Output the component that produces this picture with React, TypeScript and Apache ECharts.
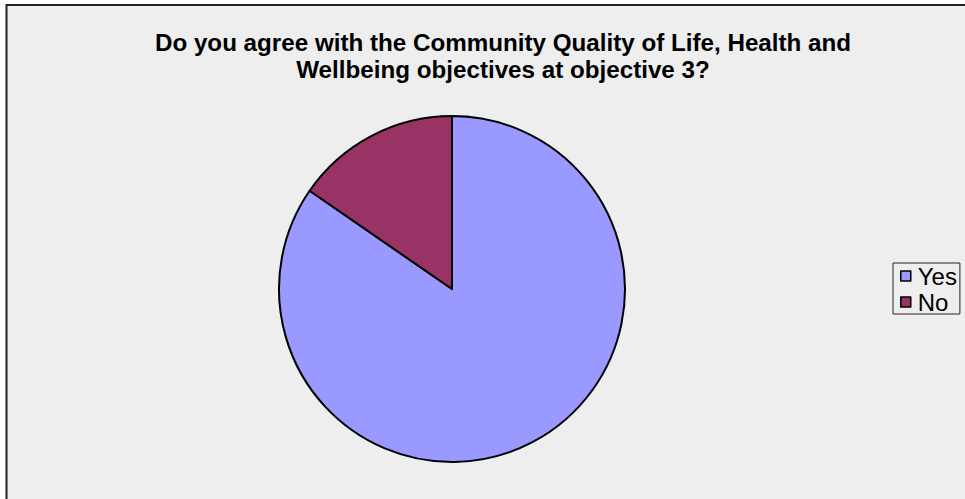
import React, { useEffect, useRef } from "react";
import * as echarts from "echarts";

const titleLines = [
  "Do you agree with the Community Quality of Life, Health and",
  "Wellbeing objectives at objective 3?",
];
const categories = ["Yes", "No"];
const values = [11, 2];
const colors = ["#9999FF", "#993366"];

export default function App() {
  const ref = useRef<HTMLDivElement>(null);
  useEffect(() => {
    document.body.style.margin = "0";
    const chart = echarts.init(ref.current!, null, { renderer: "svg" });
    chart.setOption({
      animation: false,
      backgroundColor: "#ffffff",
      graphic: [
        {
          type: "rect",
          z: -10,
          silent: true,
          shape: { x: 6.5, y: 5, width: 980, height: 520 },
          style: { fill: "#eeeeee", stroke: "#222222", lineWidth: 2 },
        },
        ...titleLines.map((t, i) => ({
          type: "text",
          x: 503,
          y: 42 + i * 27,
          silent: true,
          style: {
            x: 0,
            y: 0,
            text: t,
            align: "center",
            verticalAlign: "middle",
            fontFamily: "Liberation Sans, Arial, sans-serif",
            fontSize: 24.2,
            fontWeight: "bold",
            fill: "#000000",
          },
        })),
      ],
      legend: {
        orient: "vertical",
        left: 893,
        top: 263,
        data: categories,
        icon: "rect",
        itemWidth: 10,
        itemHeight: 10,
        itemGap: 2,
        padding: [1, 3, 0, 7],
        borderColor: "#222222",
        borderWidth: 1,
        backgroundColor: "#eeeeee",
        textStyle: {
          fontFamily: "Liberation Sans, Arial, sans-serif",
          fontSize: 24,
          lineHeight: 24,
          color: "#000000",
          padding: [0, 0, 0, 2],
        },
        itemStyle: { borderColor: "#000000", borderWidth: 1.5 },
      },
      series: [
        {
          type: "pie",
          center: [452, 289],
          radius: 173,
          startAngle: 90,
          clockwise: true,
          label: { show: false },
          labelLine: { show: false },
          emphasis: { disabled: true },
          itemStyle: { borderColor: "#000000", borderWidth: 2 },
          data: categories.map((c, i) => ({
            name: c,
            value: values[i],
            itemStyle: { color: colors[i] },
          })),
        },
      ],
    });
    return () => chart.dispose();
  }, []);
  return (
    <div
      ref={ref}
      style={{ position: "absolute", left: 0, top: 0, width: 965, height: 499 }}
    />
  );
}
